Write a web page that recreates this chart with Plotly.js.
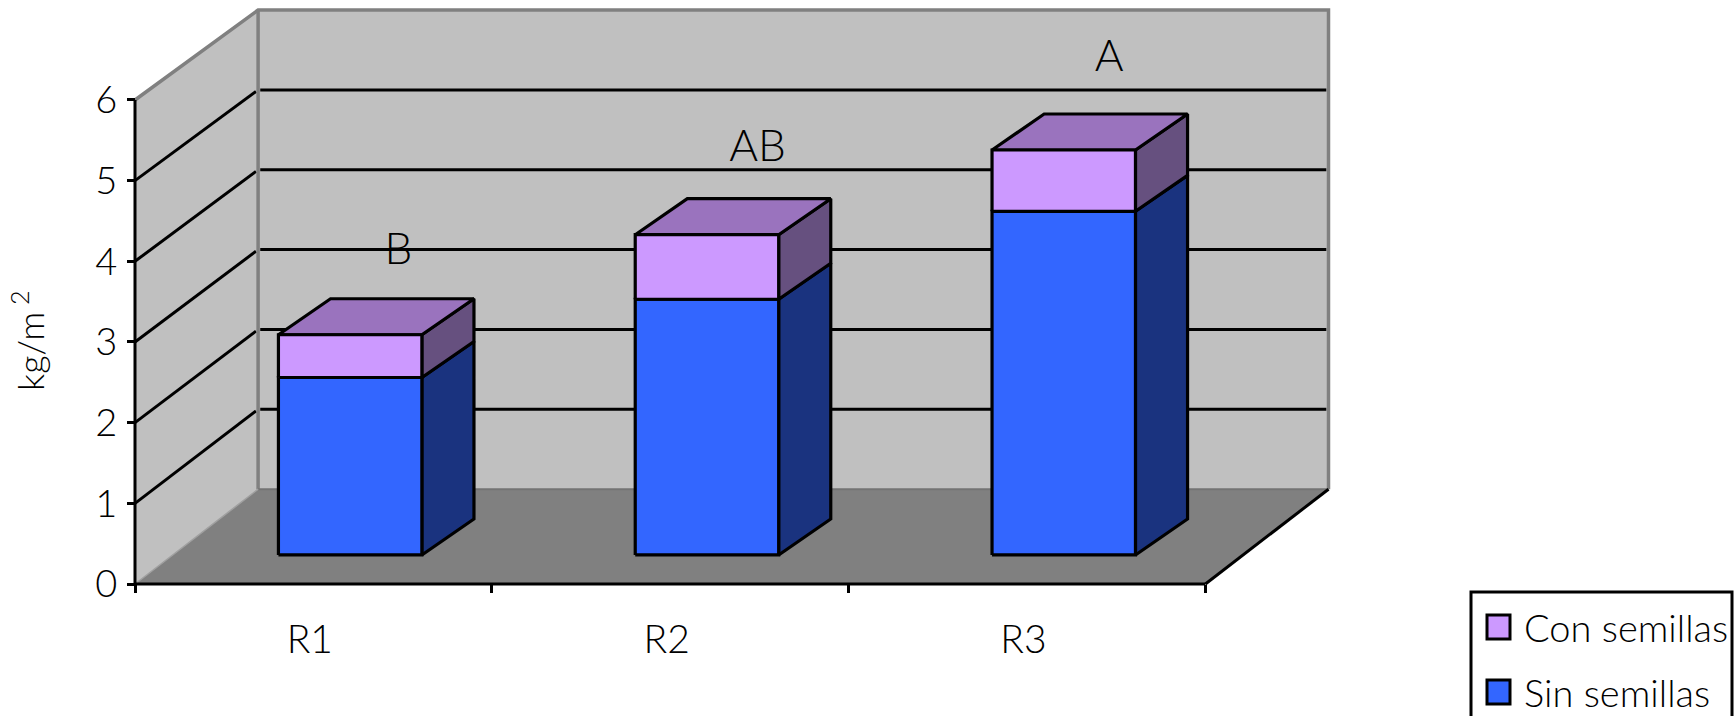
<!DOCTYPE html>
<html>
<head>
<meta charset="utf-8">
<script src="https://cdn.plot.ly/plotly-3.0.1.min.js"></script>
<style>html,body{margin:0;padding:0;background:#fff;overflow:hidden}</style>
</head>
<body>
<div id="chart" style="width:1735px;height:716px"></div>
<script>
// ---- data ----
const categories = ['R1', 'R2', 'R3'];
const sinSemillas = [2.2, 3.17, 4.26];
const conSemillas = [0.53, 0.8, 0.76];
const letters = ['B', 'AB', 'A'];
const letterX = [0.738, 1.745, 2.73];
const letterY = [4.1, 5.38, 6.5];
const yTicks = [0, 1, 2, 3, 4, 5, 6];
const xTicks = [0, 1, 2, 3];

// ---- styling / geometry of the pseudo-3D box ----
const W = 1735, H = 716;
const FONT = 'Lato, sans-serif';
const originX = 135, originY = 584, unitX = 356.8, unitY = 80.67;
const wallDX = 0.345, wallDY = 1.175, backScale = 0.99;
const barW = 0.402, barShiftX = 0.103, barShiftY = 0.36, barDX = 0.146, barDY = 0.446;
const colors = {
  wall: '#C0C0C0', floor: '#808080', edge: '#808080',
  sin: ['#3366FF', '#1A337F', '#264CBF'],
  con: ['#CC99FF', '#66507F', '#9A73BE']
};

const traces = [];
function poly(name, xs, ys, fill, lineColor, lineWidth) {
  traces.push({
    type: 'scatter', mode: 'lines', name: name, x: xs, y: ys,
    fill: fill ? 'toself' : 'none', fillcolor: fill || undefined,
    line: {color: lineColor || 'rgba(0,0,0,0)', width: lineWidth === undefined ? 3 : lineWidth},
    hoverinfo: 'skip', showlegend: false
  });
}
const backY = v => wallDY + v * backScale;
const yMax = 6, xEnd = 3;

// walls and floor
poly('left wall', [0, wallDX, wallDX, 0, 0], [0, backY(0), backY(yMax), yMax, 0], colors.wall);
poly('back wall', [wallDX, xEnd + wallDX, xEnd + wallDX, wallDX, wallDX],
     [backY(0), backY(0), backY(yMax), backY(yMax), backY(0)], colors.wall);
poly('floor', [0, xEnd, xEnd + wallDX, wallDX, 0], [0, 0, backY(0), backY(0), 0], colors.floor);

// gridlines
yTicks.slice(1, -1).forEach(v => {
  poly('grid ' + v, [0, wallDX - 0.006], [v, backY(v) - 0.02], null, '#000', 3);
  poly('grid back ' + v, [wallDX + 0.006, xEnd + wallDX - 0.006], [backY(v), backY(v)], null, '#000', 3);
});

// wall edges
poly('edge top', [0, wallDX, xEnd + wallDX, xEnd + wallDX], [yMax, backY(yMax), backY(yMax), backY(0)], null, colors.edge, 3.5);
poly('edge back', [wallDX, wallDX], [backY(yMax), backY(0)], null, colors.edge, 3.5);
poly('edge floor', [wallDX, xEnd + wallDX], [backY(0), backY(0)], null, '#737373', 2);
poly('edge floor left', [0, wallDX], [0, backY(0)], null, '#A0A0A0', 1.5);
poly('edge floor right', [xEnd, xEnd + wallDX], [0, backY(0)], null, '#000', 3);

// stacked bars
function box(name, i, v0, v1, pal, showTop) {
  const x0 = i + 0.5 + barShiftX - barW / 2, x1 = x0 + barW;
  const y0 = barShiftY + v0, y1 = barShiftY + v1;
  poly(name + ' side', [x1, x1 + barDX, x1 + barDX, x1, x1],
       [y0, y0 + barDY, y1 + barDY, y1, y0], pal[1], '#000', 3.2);
  if (showTop) {
    poly(name + ' top', [x0, x1, x1 + barDX, x0 + barDX, x0],
         [y1, y1, y1 + barDY, y1 + barDY, y1], pal[2], '#000', 3.2);
  }
  poly(name, [x0, x1, x1, x0, x0], [y0, y0, y1, y1, y0], pal[0], '#000', 3.2);
}
categories.forEach((c, i) => {
  box('Sin semillas ' + c, i, 0, sinSemillas[i], colors.sin, false);
  box('Con semillas ' + c, i, sinSemillas[i], sinSemillas[i] + conSemillas[i], colors.con, true);
});

// significance letters
traces.push({
  type: 'scatter', mode: 'text', name: 'letters', x: letterX, y: letterY, text: letters,
  textposition: 'middle center', textfont: {family: FONT, size: 44, weight: 300, color: '#000'},
  hoverinfo: 'skip', showlegend: false
});

// axis lines
poly('y axis line', [0, 0], [0, yMax], null, '#000', 3);
poly('x axis line', [0, xEnd], [0, 0], null, '#000', 3);

// ---- legend box built from paper-positioned shapes and text ----
const px = p => p / W, py = p => 1 - p / H;
const legendItems = [
  {label: 'Con semillas', color: colors.con[0], cy: 627},
  {label: 'Sin semillas', color: colors.sin[0], cy: 692}
];
const shapes = [{
  type: 'rect', xref: 'paper', yref: 'paper', x0: px(1471), x1: px(1732), y0: py(592), y1: py(730),
  line: {color: '#000', width: 3}, fillcolor: '#fff'
}];
const annotations = [{
  xref: 'paper', yref: 'paper', x: px(28), y: py(340), xanchor: 'center', yanchor: 'middle',
  text: 'kg/m<sup> 2</sup>', textangle: -90,
  showarrow: false, font: {family: FONT, size: 36, weight: 300, color: '#000'}
}];
legendItems.forEach(it => {
  shapes.push({
    type: 'rect', xref: 'paper', yref: 'paper', x0: px(1487), x1: px(1510),
    y0: py(it.cy + 12), y1: py(it.cy - 12), line: {color: '#000', width: 3}, fillcolor: it.color
  });
  annotations.push({
    xref: 'paper', yref: 'paper', x: px(1522), y: py(it.cy), xanchor: 'left', yanchor: 'middle',
    text: it.label, showarrow: false, font: {family: FONT, size: 38, weight: 300, color: '#000'}
  });
});

const layout = {
  width: W, height: H, autosize: false, showlegend: false,
  margin: {l: 0, r: 0, t: 0, b: 0},
  paper_bgcolor: '#fff', plot_bgcolor: '#fff',
  hovermode: false,
  font: {family: FONT, color: '#000'},
  xaxis: {
    range: [-originX / unitX, (W - originX) / unitX], anchor: 'free', position: (H - originY) / H,
    showgrid: false, zeroline: false, showline: false, fixedrange: true,
    tickmode: 'array', tickvals: categories.map((c, i) => i + 0.49), ticktext: categories,
    ticks: '', ticklabelstandoff: 29, tickfont: {family: FONT, size: 39, weight: 300, color: '#000'},
    minor: {tickmode: 'array', tickvals: xTicks, ticks: 'outside', ticklen: 8, tickwidth: 3, tickcolor: '#000', showgrid: false}
  },
  yaxis: {
    range: [(originY - H) / unitY, originY / unitY], anchor: 'free', position: originX / W, side: 'left',
    showgrid: false, zeroline: false, showline: false, fixedrange: true,
    tickmode: 'array', tickvals: yTicks,
    ticks: 'outside', ticklen: 8, tickwidth: 3, tickcolor: '#000', ticklabelstandoff: 2,
    tickfont: {family: FONT, size: 38, weight: 300, color: '#000'}
  },
  shapes: shapes,
  annotations: annotations
};
Plotly.newPlot('chart', traces, layout, {displayModeBar: false, staticPlot: true});
</script>
</body>
</html>
